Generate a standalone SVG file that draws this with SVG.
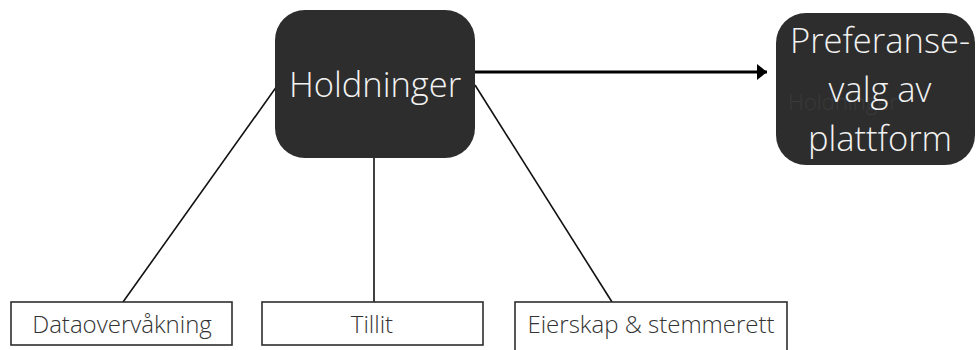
<svg xmlns="http://www.w3.org/2000/svg" width="980" height="350" viewBox="0 0 980 350">
<defs>
<style>
.dark{fill:#2d2d2d;}
.big{font-family:"Open Sans","Liberation Sans",sans-serif;font-weight:300;font-size:34.5px;fill:#f2f2f2;text-anchor:middle;}
.ghost{font-family:"Open Sans","Liberation Sans",sans-serif;font-weight:300;font-size:22px;fill:#3a3a3a;text-anchor:middle;}
.box{fill:#ffffff;stroke:#2d2d2d;stroke-width:1.6;}
.lbl{font-family:"Open Sans","Liberation Sans",sans-serif;font-weight:300;font-size:24px;fill:#333333;text-anchor:middle;}
.ln{stroke:#111111;stroke-width:1.6;fill:none;}
</style>
<marker id="ah" viewBox="0 0 10 10" refX="10" refY="5" markerWidth="10" markerHeight="16" markerUnits="userSpaceOnUse" orient="auto" preserveAspectRatio="none">
<path d="M0,0 L10,5 L0,10 z" fill="#000"/>
</marker>
</defs>
<rect width="980" height="350" fill="#ffffff"/>
<g id="connectors">
<line class="ln" x1="277" y1="86" x2="123" y2="302"/>
<line class="ln" x1="374" y1="158" x2="374" y2="302"/>
<line class="ln" x1="475" y1="85" x2="612" y2="302"/>
<line x1="470" y1="72" x2="767" y2="72" stroke="#000" stroke-width="3" marker-end="url(#ah)"/>
</g>
<g id="holdninger">
<rect class="dark" x="275" y="10" width="200" height="148" rx="30"/>
<text class="big" x="375" y="97">Holdninger</text>
</g>
<g id="preferansevalg">
<rect class="dark" x="776" y="13" width="199" height="152" rx="30"/>
<text class="ghost" x="843" y="110">Holdninger</text>
<text class="big" x="880" y="53">Preferanse-</text>
<text class="big" x="880" y="102">valg av</text>
<text class="big" x="880" y="151">plattform</text>
</g>
<g id="dataovervakning">
<rect class="box" x="11" y="302" width="221" height="43"/>
<text class="lbl" x="122" y="333">Dataovervåkning</text>
</g>
<g id="tillit">
<rect class="box" x="262" y="302" width="221" height="43"/>
<text class="lbl" x="372" y="333">Tillit</text>
</g>
<g id="eierskap">
<rect class="box" x="515" y="302" width="272" height="60"/>
<text class="lbl" x="651" y="333">Eierskap &amp; stemmerett</text>
</g>
</svg>
